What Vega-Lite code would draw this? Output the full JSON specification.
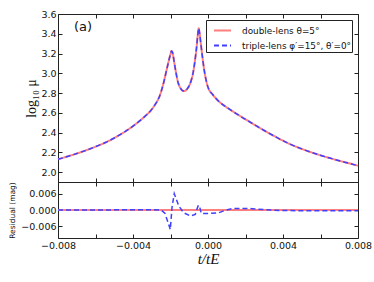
{
  "$schema": "https://vega.github.io/schema/vega-lite/v6.json",
  "background": "white",
  "padding": {"left": 8, "top": 8, "right": 5, "bottom": 5},
  "spacing": 0,
  "bounds": "flush",
  "config": {
    "view": {"stroke": "#222", "strokeWidth": 1},
    "axis": {
      "labelFont": "DejaVu Sans",
      "labelFontSize": 9.5,
      "labelColor": "#111",
      "tickColor": "#222",
      "tickSize": -4,
      "tickWidth": 1,
      "domain": false,
      "grid": false,
      "labelPadding": 6,
      "labelFlush": false,
      "labelOverlap": false,
      "labelBound": false,
      "titleColor": "#111",
      "titleFontWeight": "normal"
    }
  },
  "datasets": {
    "curve": [
      {"t": -0.008, "mu": 2.13},
      {"t": -0.0075, "mu": 2.158},
      {"t": -0.007, "mu": 2.188},
      {"t": -0.0065, "mu": 2.221},
      {"t": -0.006, "mu": 2.257},
      {"t": -0.0055, "mu": 2.297},
      {"t": -0.005, "mu": 2.345},
      {"t": -0.0045, "mu": 2.401},
      {"t": -0.004, "mu": 2.466},
      {"t": -0.0035, "mu": 2.542},
      {"t": -0.003, "mu": 2.635},
      {"t": -0.0028, "mu": 2.69},
      {"t": -0.0026, "mu": 2.76},
      {"t": -0.0024, "mu": 2.88},
      {"t": -0.0022, "mu": 3.04},
      {"t": -0.0021, "mu": 3.12},
      {"t": -0.002, "mu": 3.195},
      {"t": -0.00195, "mu": 3.225},
      {"t": -0.0019, "mu": 3.215},
      {"t": -0.00185, "mu": 3.17},
      {"t": -0.0018, "mu": 3.11},
      {"t": -0.0017, "mu": 3.0},
      {"t": -0.0016, "mu": 2.91},
      {"t": -0.0015, "mu": 2.86},
      {"t": -0.0014, "mu": 2.832},
      {"t": -0.0013, "mu": 2.82},
      {"t": -0.0012, "mu": 2.825},
      {"t": -0.0011, "mu": 2.845},
      {"t": -0.001, "mu": 2.875},
      {"t": -0.0009, "mu": 2.925},
      {"t": -0.0008, "mu": 3.0},
      {"t": -0.0007, "mu": 3.12},
      {"t": -0.0006, "mu": 3.28},
      {"t": -0.00055, "mu": 3.38},
      {"t": -0.0005, "mu": 3.455},
      {"t": -0.00045, "mu": 3.41},
      {"t": -0.0004, "mu": 3.33},
      {"t": -0.0003, "mu": 3.17},
      {"t": -0.0002, "mu": 3.03},
      {"t": -0.0001, "mu": 2.93},
      {"t": 0.0, "mu": 2.86},
      {"t": 0.00025, "mu": 2.785},
      {"t": 0.0005, "mu": 2.73},
      {"t": 0.00075, "mu": 2.688},
      {"t": 0.001, "mu": 2.655},
      {"t": 0.0015, "mu": 2.593},
      {"t": 0.002, "mu": 2.534},
      {"t": 0.0025, "mu": 2.477},
      {"t": 0.003, "mu": 2.421},
      {"t": 0.0035, "mu": 2.368},
      {"t": 0.004, "mu": 2.318},
      {"t": 0.0045, "mu": 2.273},
      {"t": 0.005, "mu": 2.235},
      {"t": 0.0055, "mu": 2.201},
      {"t": 0.006, "mu": 2.17},
      {"t": 0.0065, "mu": 2.142},
      {"t": 0.007, "mu": 2.115},
      {"t": 0.0075, "mu": 2.09},
      {"t": 0.008, "mu": 2.065}
    ],
    "resid": [
      {"t": -0.008, "r": 0},
      {"t": -0.006, "r": 0},
      {"t": -0.004, "r": 0.0001},
      {"t": -0.003, "r": 0.0001},
      {"t": -0.0025, "r": 0},
      {"t": -0.0023, "r": -0.0012},
      {"t": -0.0021, "r": -0.0052},
      {"t": -0.00201, "r": -0.0072},
      {"t": -0.00192, "r": 0.0009},
      {"t": -0.0018, "r": 0.006},
      {"t": -0.00156, "r": 0.0015},
      {"t": -0.0013, "r": -0.001},
      {"t": -0.00094, "r": -0.0022},
      {"t": -0.00068, "r": -0.0016},
      {"t": -0.00053, "r": 0.0015},
      {"t": -0.00046, "r": 0.0017},
      {"t": -0.00036, "r": -0.0013},
      {"t": 0.00004, "r": -0.0013},
      {"t": 0.00057, "r": -0.001},
      {"t": 0.00092, "r": -0.0001},
      {"t": 0.00128, "r": 0.0005},
      {"t": 0.00181, "r": 0.0006},
      {"t": 0.00235, "r": 0.0005},
      {"t": 0.00304, "r": 0.0001},
      {"t": 0.00395, "r": -0.0002},
      {"t": 0.0057, "r": -0.0003},
      {"t": 0.008, "r": -0.0003}
    ]
  },
  "vconcat": [
    {
      "width": 300,
      "height": 168,
      "data": {"name": "curve"},
      "layer": [
        {
          "mark": {"type": "line", "strokeWidth": 2, "interpolate": "monotone"},
          "encoding": {
            "x": {
              "field": "t", "type": "quantitative",
              "scale": {"domain": [-0.008, 0.008], "nice": false, "zero": false},
              "axis": {"orient": "bottom", "values": [-0.008, -0.006, -0.004, -0.002, 0, 0.002, 0.004, 0.006, 0.008], "labels": false, "title": null}
            },
            "y": {
              "field": "mu", "type": "quantitative",
              "scale": {"domain": [1.9, 3.6], "nice": false, "zero": false},
              "axis": {"orient": "left", "values": [2.0, 2.2, 2.4, 2.6, 2.8, 3.0, 3.2, 3.4, 3.6], "format": ".1f", "title": "log₁₀ μ", "titleFont": "Liberation Serif", "titleFontSize": 14, "titlePadding": 2}
            },
            "color": {
              "datum": "double-lens θ=5°",
              "scale": {"domain": ["double-lens θ=5°", "triple-lens φ′=15°, θ′=0°"], "range": ["#ff7f7f", "#4040ff"]},
              "legend": {
                "title": null, "orient": "top-right", "offset": 6,
                "symbolType": "stroke", "symbolSize": 289, "symbolStrokeWidth": 1.8,
                "symbolOffset": 6, "labelOffset": 10, "rowPadding": -2, "padding": 1,
                "labelFont": "DejaVu Sans", "labelFontSize": 8.9, "labelColor": "#111", "labelLimit": 200,
                "strokeColor": "#222", "fillColor": "white", "cornerRadius": 0,
                "encode": {"symbols": {"update": {"strokeDash": {"signal": "datum.index == 1 ? [4, 3] : [1, 0]"}}}}
              }
            },
            "strokeDash": {
              "datum": "double-lens θ=5°",
              "scale": {"domain": ["double-lens θ=5°", "triple-lens φ′=15°, θ′=0°"], "range": [[1, 0], [5, 3]]},
              "legend": null
            }
          }
        },
        {
          "mark": {"type": "line", "strokeWidth": 1.5, "interpolate": "monotone"},
          "encoding": {
            "x": {
              "field": "t", "type": "quantitative",
              "axis": {"orient": "top", "values": [-0.008, -0.006, -0.004, -0.002, 0, 0.002, 0.004, 0.006, 0.008], "labels": false, "title": null}
            },
            "y": {
              "field": "mu", "type": "quantitative",
              "axis": {"orient": "right", "values": [2.0, 2.2, 2.4, 2.6, 2.8, 3.0, 3.2, 3.4, 3.6], "labels": false, "title": null}
            },
            "color": {"datum": "triple-lens φ′=15°, θ′=0°"},
            "strokeDash": {"datum": "triple-lens φ′=15°, θ′=0°"}
          }
        },
        {
          "data": {"values": [{"t": -0.00667, "mu": 3.464, "label": "(a)"}]},
          "mark": {"type": "text", "font": "DejaVu Sans", "fontSize": 13, "color": "#111", "align": "center", "baseline": "middle"},
          "encoding": {
            "x": {"field": "t", "type": "quantitative", "axis": null},
            "y": {"field": "mu", "type": "quantitative", "axis": null},
            "text": {"field": "label"}
          }
        }
      ],
      "resolve": {"axis": {"x": "independent", "y": "independent"}}
    },
    {
      "width": 300,
      "height": 56,
      "data": {"name": "resid"},
      "layer": [
        {
          "mark": {"type": "line", "color": "#ff7f7f", "strokeWidth": 2},
          "encoding": {
            "x": {
              "field": "t", "type": "quantitative",
              "scale": {"domain": [-0.008, 0.008], "nice": false, "zero": false},
              "axis": {"orient": "top", "values": [-0.008, -0.006, -0.004, -0.002, 0, 0.002, 0.004, 0.006, 0.008], "labels": false, "title": null}
            },
            "y": {
              "datum": 0, "type": "quantitative",
              "scale": {"domain": [-0.0103, 0.0103], "nice": false, "zero": false},
              "axis": {"orient": "right", "values": [-0.006, 0, 0.006], "labels": false, "title": null}
            }
          }
        },
        {
          "mark": {"type": "line", "color": "#4040ff", "strokeWidth": 1.5, "strokeDash": [5, 3]},
          "encoding": {
            "x": {
              "field": "t", "type": "quantitative",
              "axis": {
                "orient": "bottom",
                "values": [-0.008, -0.006, -0.004, -0.002, 0, 0.002, 0.004, 0.006, 0.008],
                "labelExpr": "abs(round(datum.value * 1000)) % 4 == 0 ? format(datum.value, '.3f') : ''",
                "title": "t/tE", "titleFont": "Liberation Serif", "titleFontStyle": "italic", "titleFontSize": 15, "titlePadding": 2
              }
            },
            "y": {
              "field": "r", "type": "quantitative",
              "axis": {"orient": "left", "values": [-0.006, 0, 0.006], "format": ".3f", "title": "Residual (mag)", "titleFont": "DejaVu Sans", "titleFontSize": 7.5, "titlePadding": 4}
            }
          }
        }
      ],
      "resolve": {"axis": {"x": "independent", "y": "independent"}}
    }
  ]
}
